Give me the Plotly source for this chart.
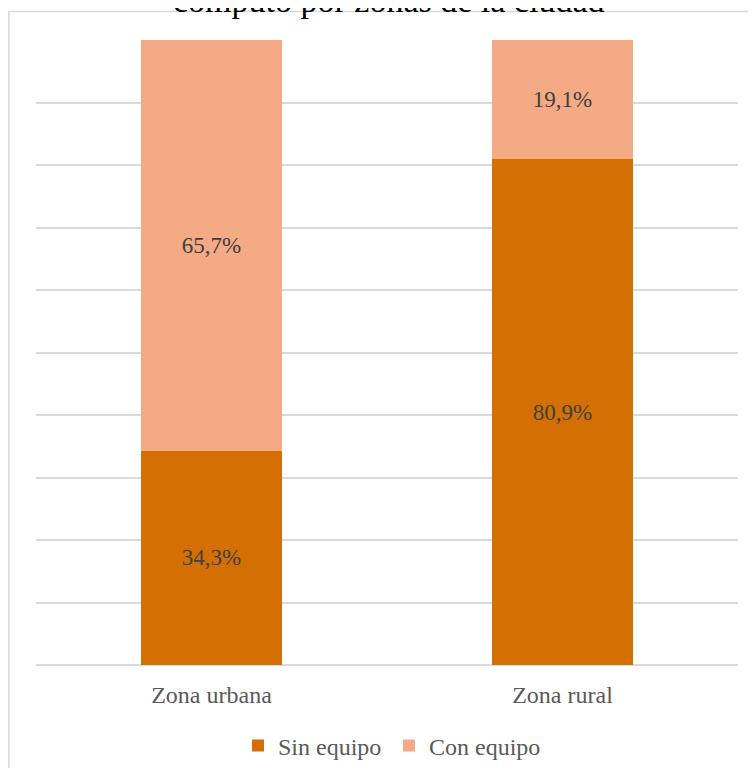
import plotly.graph_objects as go

categories = ["Zona urbana", "Zona rural"]
sin_equipo = [34.3, 80.9]
con_equipo = [65.7, 19.1]
title_text = "cómputo por zonas de la ciudad"

OFF = 8  # page body margin
W, H = 740, 760
# desired screen positions of the plot area
SL, SR, ST, SB = 36, 738, 40, 665
L, T = SL - OFF, ST - OFF
R = W - (SR - OFF)
B = H - (SB - OFF)
plot_h = H - T - B
plot_w = W - L - R

def py(spix):
    return (SB - spix) / plot_h

def px(spix):
    return (spix - SL) / plot_w

font_family = "Liberation Serif, Times New Roman, serif"

fig = go.Figure()
fig.add_trace(go.Bar(
    x=categories, y=sin_equipo, name="Sin equipo",
    marker=dict(color="#D46F03", line=dict(width=0)),
    texttemplate="%{y:.1f}%", textposition="inside", insidetextanchor="middle",
    textfont=dict(color="#404040", size=23, family=font_family),
    constraintext="none", legendwidth=106,
))
fig.add_trace(go.Bar(
    x=categories, y=con_equipo, name="Con equipo",
    marker=dict(color="#F4AA85", line=dict(width=0)),
    texttemplate="%{y:.1f}%", textposition="inside", insidetextanchor="middle",
    textfont=dict(color="#404040", size=23, family=font_family),
    constraintext="none", legendwidth=118,
))

fig.update_layout(
    width=W, height=H,
    margin=dict(l=L, r=R, t=T, b=B, autoexpand=False),
    barmode="stack", bargap=0.6,
    separators=",.",
    paper_bgcolor="white", plot_bgcolor="white",
    font=dict(family=font_family, size=24, color="#595959"),
    showlegend=True,
    legend=dict(orientation="h", x=px(238), xanchor="left", y=py(746), yanchor="middle",
                font=dict(size=24, color="#595959"), traceorder="normal", itemwidth=30),
    xaxis=dict(showgrid=False, showline=False, ticks="", ticklabelstandoff=13,
               tickfont=dict(size=24, color="#595959")),
    yaxis=dict(range=[0, 100], dtick=10, showgrid=True, gridcolor="#D9D9D9", gridwidth=1.5,
               showticklabels=False, zeroline=True, zerolinecolor="#D9D9D9", zerolinewidth=1.5,
               ticks=""),
    shapes=[dict(type="rect", xref="paper", yref="paper",
                 x0=px(8.9), x1=px(900), y0=py(900), y1=py(11.5),
                 line=dict(color="#D9D9D9", width=1.5), fillcolor="rgba(0,0,0,0)", layer="below")],
    annotations=[dict(text=title_text, xref="paper", yref="paper", x=px(389), y=py(21),
                      xanchor="center", yanchor="bottom", showarrow=False,
                      font=dict(size=34, color="#000000", family=font_family))],
)

fig.write_html("out.html")
